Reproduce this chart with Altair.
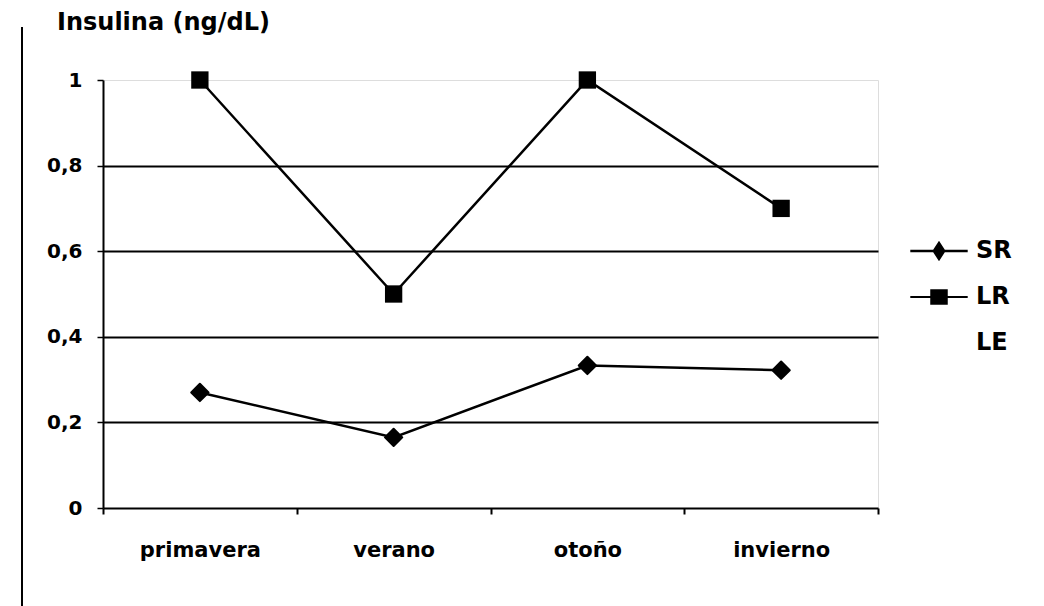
import altair as alt
import pandas as pd

seasons = ["primavera", "verano", "otoño", "invierno"]
sr_values = [0.27, 0.165, 0.333, 0.322]
lr_values = [1.0, 0.5, 1.0, 0.7]
series_names = ["SR", "LR", "LE"]
y_ticks = [0, 0.2, 0.4, 0.6, 0.8, 1]
title_text = "Insulina (ng/dL)"

rows = []
for s, v in zip(seasons, sr_values):
    rows.append({"estacion": s, "serie": "SR", "valor": v})
for s, v in zip(seasons, lr_values):
    rows.append({"estacion": s, "serie": "LR", "valor": v})
df = pd.DataFrame(rows)

FONT = "DejaVu Sans"

x = alt.X(
    "estacion:N", sort=seasons,
    scale=alt.Scale(type="band", paddingInner=0, paddingOuter=0),
    axis=alt.Axis(
        title=None, labelAngle=0, labelFont=FONT, labelFontSize=21,
        labelFontWeight="bold", labelColor="black", labelPadding=25,
        domainColor="black", domainWidth=2, tickColor="black", tickWidth=2,
        tickSize=6, tickBand="extent", grid=False,
    ),
)
y = alt.Y(
    "valor:Q",
    scale=alt.Scale(domain=[0, 1], nice=False, zero=True),
    axis=alt.Axis(
        title=None, values=y_ticks,
        labelExpr="datum.value == 0 ? '0' : datum.value == 1 ? '1' : replace(format(datum.value, '.1f'), '.', ',')",
        labelFont=FONT, labelFontSize=20, labelFontWeight="bold", labelColor="black",
        labelPadding=15, domainColor="black", domainWidth=2,
        tickColor="black", tickWidth=1.5, tickSize=6,
        grid=True, gridColor="black", gridWidth=2,
        gridOpacity={"condition": {"test": "datum.value <= 0 || datum.value >= 1", "value": 0}, "value": 1},
    ),
)

base = alt.Chart(df)

lines = base.mark_line(color="black", strokeWidth=2.5).encode(x=x, y=y, detail="serie:N")

pts_sr = base.transform_filter("datum.serie == 'SR'").mark_point(
    shape="diamond", filled=True, color="black", size=300, opacity=1,
    stroke="black", strokeWidth=2, strokeJoin="round",
).encode(x=x, y=y)
pts_lr = base.transform_filter("datum.serie == 'LR'").mark_point(
    shape="square", filled=True, color="black", size=300, opacity=1
).encode(x=x, y=y)

path_sr = "M-4.1,-0.17L4.1,-0.17L4.1,0.17L-4.1,0.17ZM0,-1.45L0.95,0L0,1.45L-0.95,0Z"
path_lr = "M-4.1,-0.13L4.1,-0.13L4.1,0.13L-4.1,0.13ZM-1.25,-1.1L1.25,-1.1L1.25,1.1L-1.25,1.1Z"

legend_layer = base.transform_filter("false").mark_point(
    filled=True, color="black", size=196, opacity=1
).encode(
    x=x, y=y,
    shape=alt.Shape(
        "serie:N",
        scale=alt.Scale(domain=series_names, range=[path_sr, path_lr, "M0,0"]),
        legend=alt.Legend(
            title=None, orient="none", legendX=824, legendY=159, padding=0,
            symbolSize=196, symbolFillColor="black", symbolStrokeWidth=0,
            labelOffset=25, labelFont=FONT, labelFontSize=24, labelFontWeight="bold",
            labelColor="black", rowPadding=22,
        ),
    ),
)

border = alt.Chart(pd.DataFrame({"k": [0]})).mark_rule(color="black", strokeWidth=2).encode(
    x=alt.value(-81), y=alt.value(-53), y2=alt.value(526)
)

title = alt.Chart(pd.DataFrame({"t": [title_text]})).mark_text(
    align="left", baseline="alphabetic", font=FONT, fontSize=24, fontWeight="bold", color="black"
).encode(text="t:N", x=alt.value(-46), y=alt.value(-50))

chart = alt.layer(border, title, lines, pts_sr, pts_lr, legend_layer).properties(
    width=775, height=428,
    autosize=alt.AutoSizeParams(type="none"),
    padding={"left": 95, "top": 72, "right": 158, "bottom": 98},
).configure_view(stroke=None).configure(background="white")

chart.save("out.html", embed_options={"renderer": "svg", "actions": False})
